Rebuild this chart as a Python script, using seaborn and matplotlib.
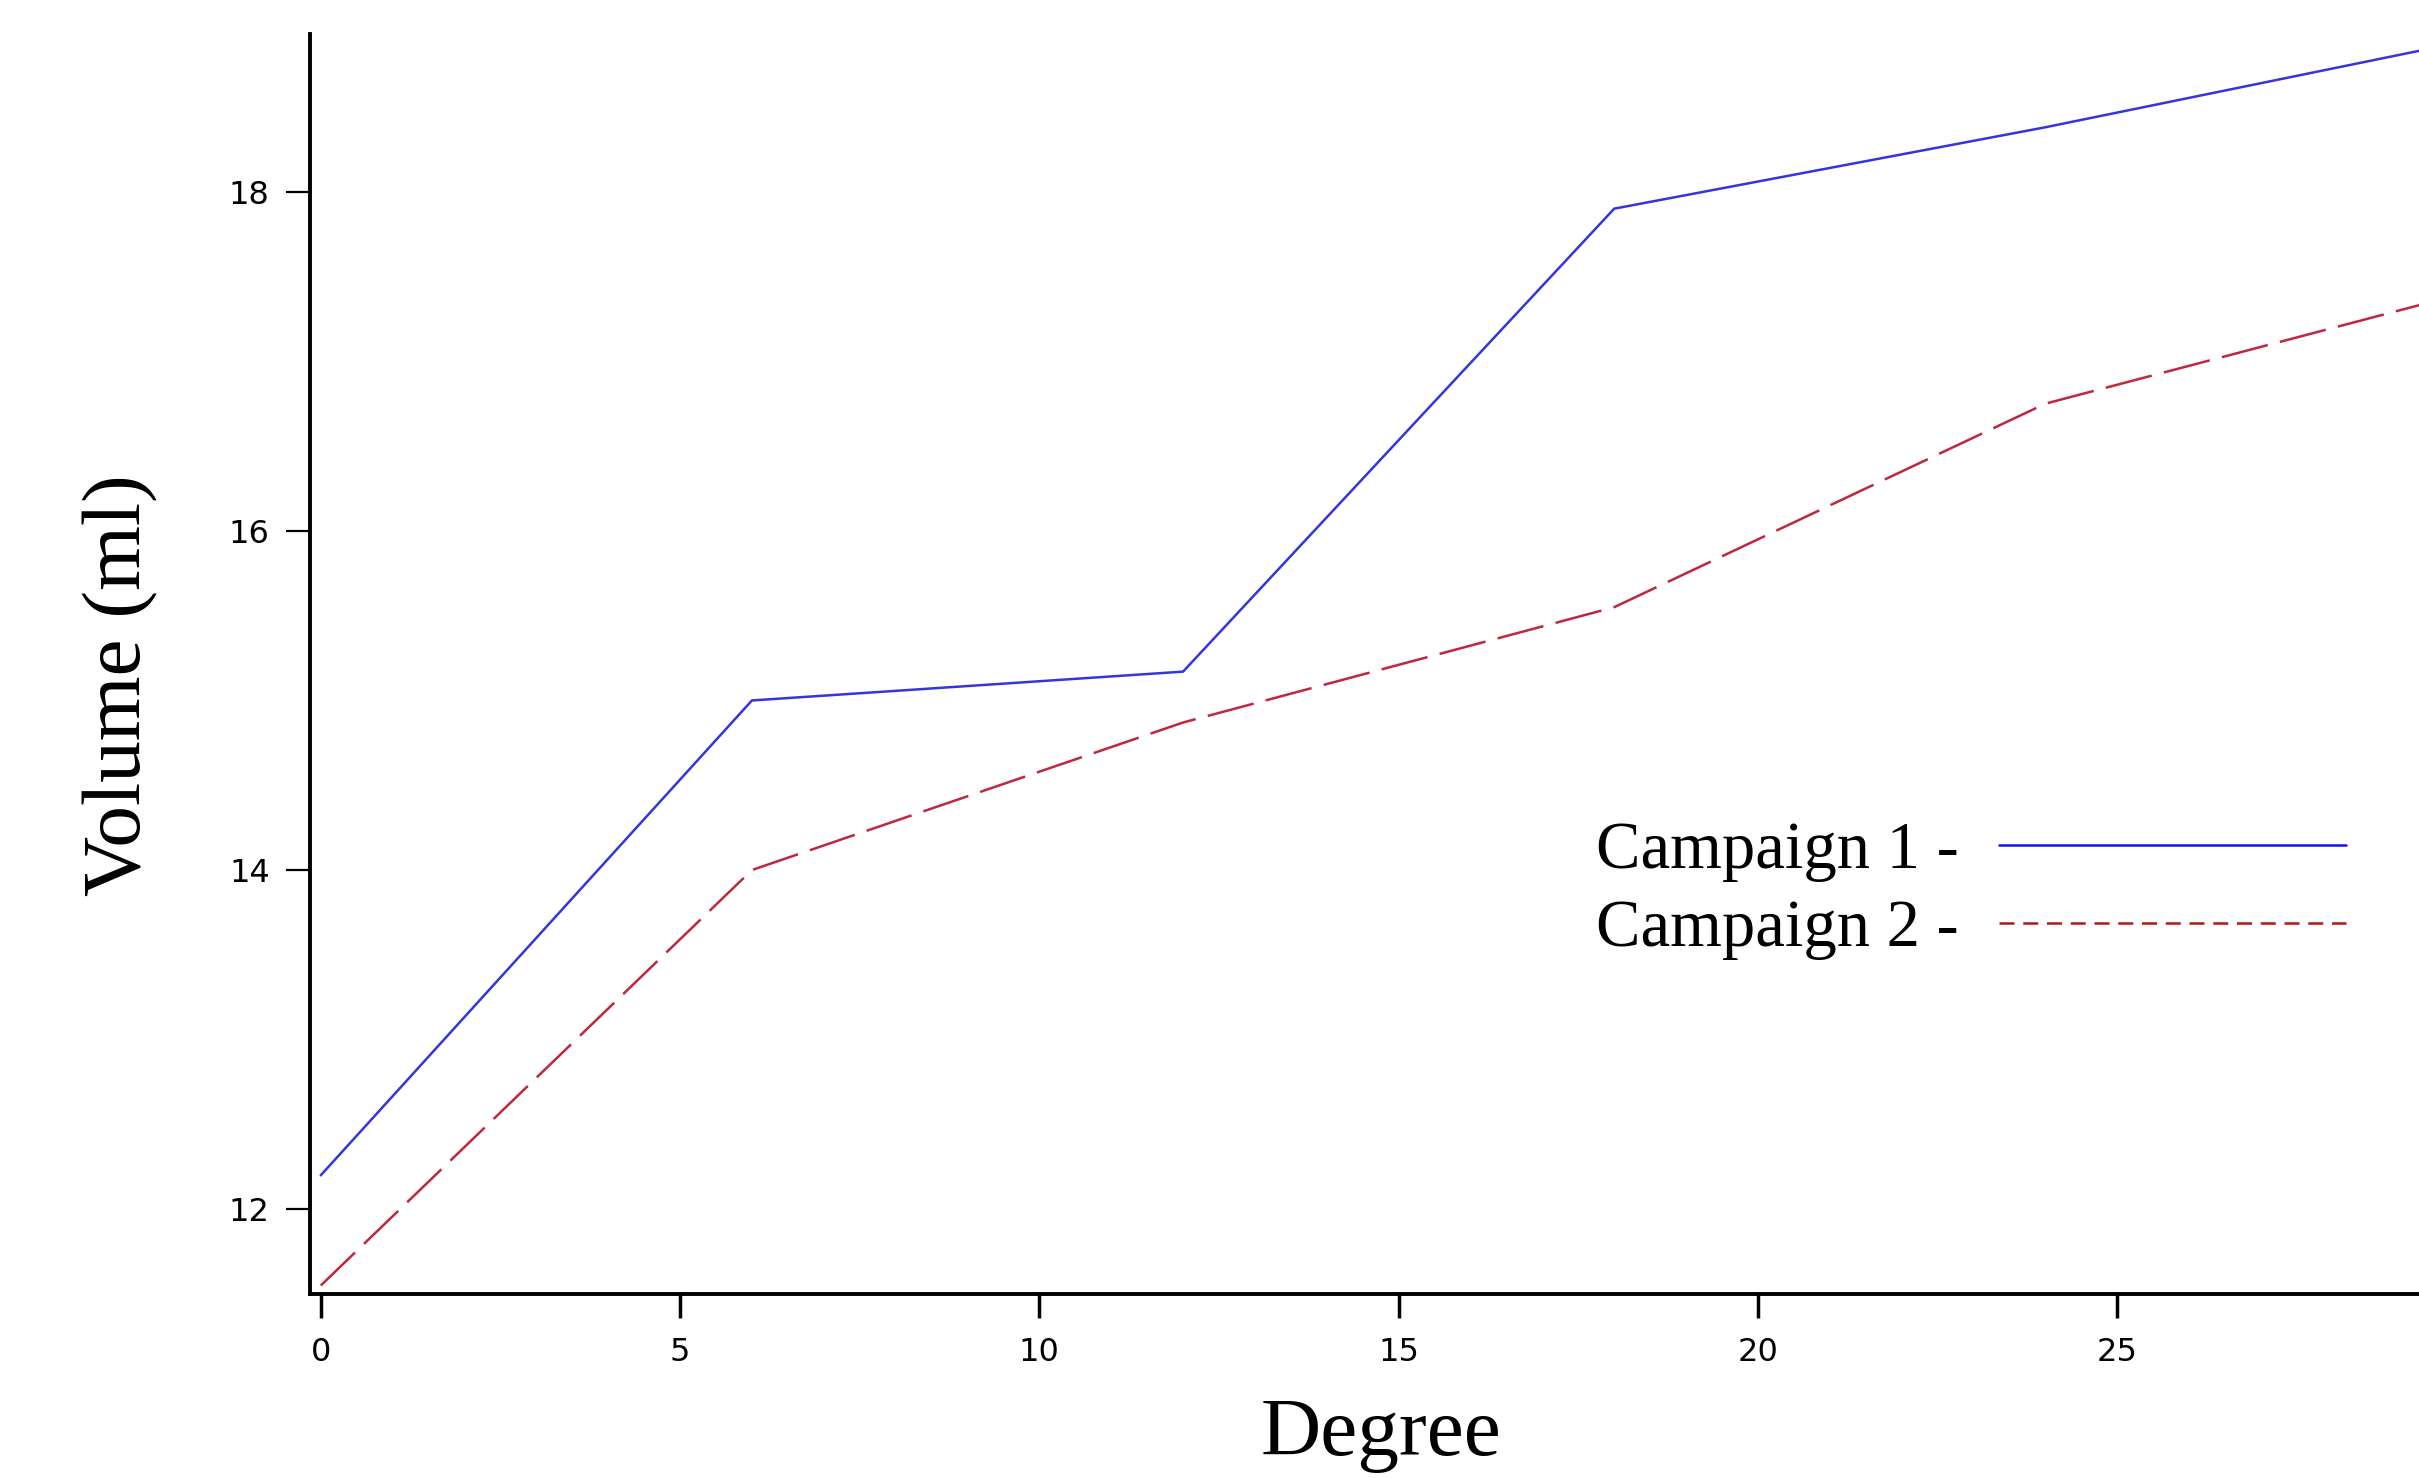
import matplotlib
matplotlib.use("Agg")
import matplotlib.pyplot as plt
from matplotlib.lines import Line2D
import seaborn as sns
import pandas as pd

# ---- data ----
degrees = [0, 6, 12, 18, 24, 30]
campaign1 = [12.2, 15.0, 15.17, 17.9, 18.38, 18.9]
campaign2 = [11.55, 14.0, 14.87, 15.55, 16.75, 17.42]
series_names = ["Campaign 1", "Campaign 2"]
legend_labels = ["Campaign 1 -", "Campaign 2 -"]
y_ticks = [12, 14, 16, 18]
x_ticks = [0, 5, 10, 15, 20, 25]

df = pd.DataFrame({
    "Degree": degrees * 2,
    "Volume": campaign1 + campaign2,
    "Series": [series_names[0]] * len(degrees) + [series_names[1]] * len(degrees),
})

sns.set_theme(style="ticks")
plt.rcParams["font.family"] = ["DejaVu Sans"]
plt.rcParams["text.color"] = "black"
plt.rcParams["axes.labelcolor"] = "black"
plt.rcParams["xtick.color"] = "black"
plt.rcParams["ytick.color"] = "black"

fig = plt.figure(figsize=(24.19, 14.78), dpi=100)
ax = fig.add_axes([310 / 2419, 1 - 1294 / 1478, 1 - 310 / 2419, (1294 - 34) / 1478])

line_colors = {series_names[0]: "#3535dd", series_names[1]: "#c0263c"}
sns.lineplot(
    data=df, x="Degree", y="Volume", hue="Series", style="Series",
    palette=line_colors,
    dashes={series_names[0]: "", series_names[1]: (19, 5)},
    linewidth=1.8, ax=ax, legend=False,
)

ax.set_xlim(-0.15, 29.2)
ax.set_ylim(11.5, 18.93)
ax.set_xticks(x_ticks)
ax.set_yticks(y_ticks)
ax.set_xticklabels([str(t) for t in x_ticks])
ax.set_yticklabels([str(t) for t in y_ticks])

for s in ["top", "right"]:
    ax.spines[s].set_visible(False)
for s in ["left", "bottom"]:
    ax.spines[s].set_linewidth(2.8)
    ax.spines[s].set_color("black")

ax.tick_params(axis="x", length=17, width=2.5, pad=14, labelsize=23, colors="black")
ax.tick_params(axis="y", length=17, width=1.6, pad=12, labelsize=23, colors="black")

serif = ["Liberation Serif", "DejaVu Serif"]
ax.set_xlabel("Degree", fontsize=60, family=serif, va="center", color="black")
ax.set_ylabel("Volume (ml)", fontsize=60, family=serif, va="center", color="black")
ax.xaxis.set_label_coords(0.508, -0.112)
ax.yaxis.set_label_coords(-0.09, 0.483)

handles = [
    Line2D([], [], color="#1010e0", linewidth=1.8),
    Line2D([], [], color="#b01818", linewidth=1.8, dashes=(6, 3.5)),
]
leg = ax.legend(
    handles, legend_labels, loc="center", bbox_to_anchor=(0.7876, 0.32),
    frameon=False, markerfirst=False, handlelength=5.2, handletextpad=0.6,
    labelspacing=0.26, borderpad=0, prop={"family": serif, "size": 48},
)
for t in leg.get_texts():
    t.set_color("black")

fig.savefig("out.png", dpi=100, facecolor="white")
